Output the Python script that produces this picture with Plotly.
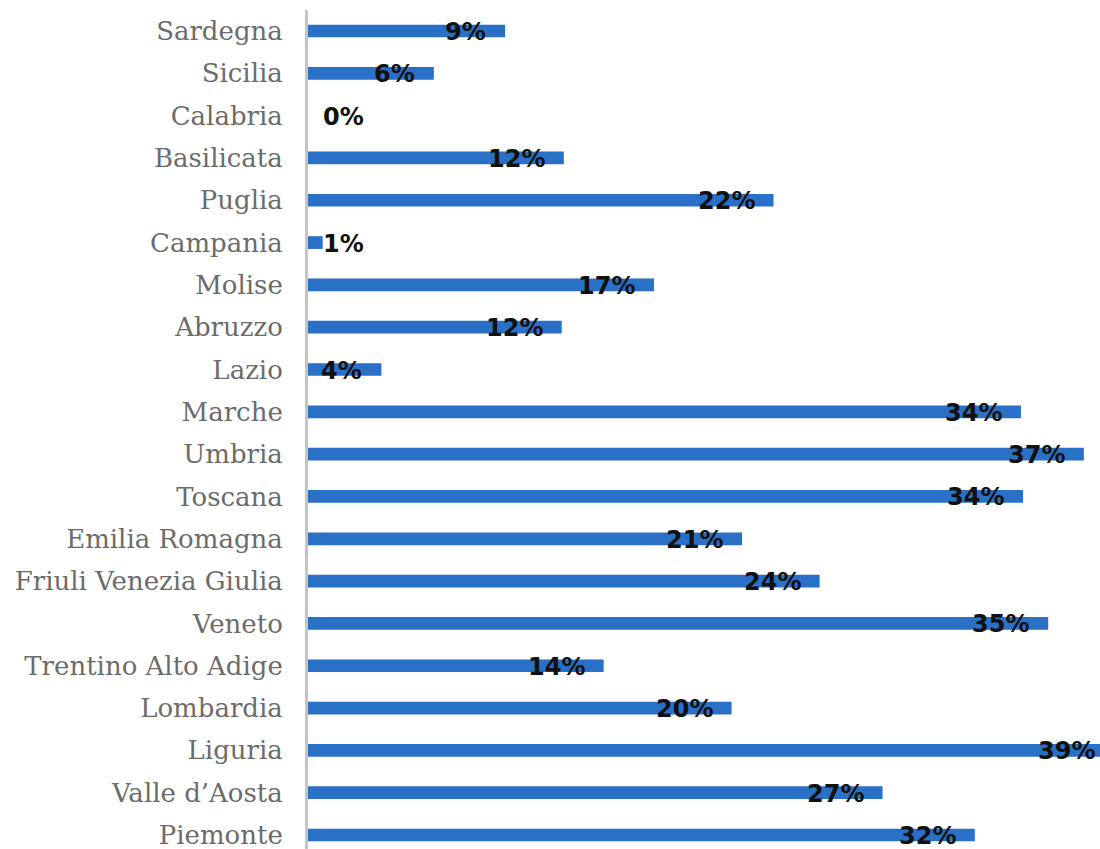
import plotly.graph_objects as go

regions = ["Piemonte", "Valle d\u2019Aosta", "Liguria", "Lombardia", "Trentino Alto Adige",
           "Veneto", "Friuli Venezia Giulia", "Emilia Romagna", "Toscana", "Umbria",
           "Marche", "Lazio", "Abruzzo", "Molise", "Campania", "Puglia", "Basilicata",
           "Calabria", "Sicilia", "Sardegna"]
values = [31.8, 27.4, 38.6, 20.2, 14.1, 35.3, 24.4, 20.7, 34.1, 37.0,
          34.0, 3.5, 12.1, 16.5, 0.7, 22.2, 12.2, 0.0, 6.0, 9.4]
labels = ["32%", "27%", "39%", "20%", "14%", "35%", "24%", "21%", "34%", "37%",
          "34%", "4%", "12%", "17%", "1%", "22%", "12%", "0%", "6%", "9%"]

XMAX = 37.77

fig = go.Figure()
fig.add_trace(go.Bar(
    y=regions, x=values, orientation="h",
    marker=dict(color="#2A70C6", line=dict(width=0)),
    hoverinfo="skip",
))

lab_font = dict(family="DejaVu Sans", size=24, color="#111111", weight="bold")
annotations = []
for r, v, t in zip(regions, values, labels):
    if v > XMAX:
        annotations.append(dict(x=XMAX, y=r, xref="x", yref="y", text=t, showarrow=False,
                                xanchor="right", xshift=-3, yshift=-1, font=lab_font))
    elif v >= 3.5:
        annotations.append(dict(x=v, y=r, xref="x", yref="y", text=t, showarrow=False,
                                xanchor="right", xshift=-17, yshift=-1, font=lab_font))
    else:
        annotations.append(dict(x=0, y=r, xref="x", yref="y", text=t, showarrow=False,
                                xanchor="left", xshift=13, yshift=-1, font=lab_font))

fig.update_layout(
    width=1100, height=849,
    margin=dict(l=308, r=0, t=10, b=0),
    paper_bgcolor="white", plot_bgcolor="white",
    bargap=0.70,
    showlegend=False,
    annotations=annotations,
    xaxis=dict(range=[0, XMAX], showgrid=False, zeroline=False, showticklabels=False,
               ticks="", showline=False, automargin=False),
    yaxis=dict(type="category", range=[-0.331, 19.496], showgrid=False, zeroline=False,
               showline=True, linecolor="#C4C4C4", linewidth=3, ticks="",
               ticklabelstandoff=17, automargin=False,
               tickfont=dict(family="DejaVu Serif", size=26, color="#6B6B6B")),
)

fig.write_html("out.html",
               config={"displayModeBar": False},
               post_script="document.body.style.margin='0';document.body.style.overflow='hidden';")
